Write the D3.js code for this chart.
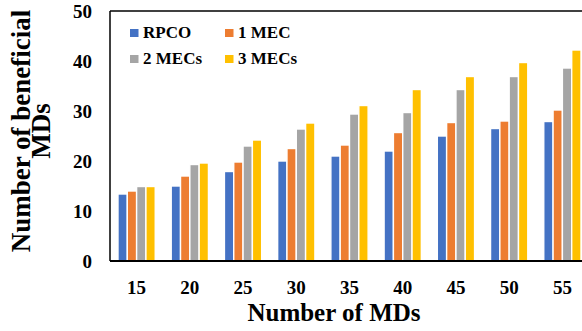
<!DOCTYPE html>
<html>
<head>
<meta charset="utf-8">
<script src="https://cdn.jsdelivr.net/npm/d3@7"></script>
<style>
html,body{margin:0;padding:0;background:#fff;}
svg{display:block;font-family:"Liberation Serif","Times New Roman",serif;font-weight:bold;}
</style>
</head>
<body>
<svg id="chart" width="582" height="331"></svg>
<script>
const categories = ["15","20","25","30","35","40","45","50","55"];
const seriesNames = ["RPCO","1 MEC","2 MECs","3 MECs"];
const rpco   = [13.4, 15.0, 17.9, 20.0, 21.0, 22.0, 25.0, 26.5, 27.9];
const mec1   = [14.0, 17.0, 19.8, 22.5, 23.2, 25.7, 27.7, 28.0, 30.2];
const mec2   = [14.9, 19.3, 23.0, 26.4, 29.4, 29.7, 34.3, 36.9, 38.6];
const mec3   = [14.9, 19.6, 24.2, 27.6, 31.1, 34.3, 36.9, 39.7, 42.2];
const yTicks = [0,10,20,30,40,50];
const colors = ["#4472C4","#ED7D31","#A5A5A5","#FFC000"];
const seriesValues = [rpco, mec1, mec2, mec3];

const svg = d3.select("#chart");
const mLeft = 110, mTop = 11, mBottom = 261;
const FONT = '"Liberation Serif","Times New Roman",serif';

const x = d3.scaleBand().domain(categories).range([mLeft, 589]).paddingInner(0.3).paddingOuter(0.15);
const xs = d3.scaleBand().domain(seriesNames).range([0, x.bandwidth()]);
const y = d3.scaleLinear().domain([0,50]).range([mBottom, mTop]);

const data = categories.map((c,i)=>({cat:c, vals: seriesNames.map((s,j)=>({s, v: seriesValues[j][i], c: colors[j]}))}));

const g = svg.append("g");
g.selectAll("g.grp").data(data).join("g")
  .attr("transform", d=>`translate(${x(d.cat)},0)`)
  .selectAll("rect").data(d=>d.vals).join("rect")
  .attr("x", d=>xs(d.s))
  .attr("width", xs.bandwidth())
  .attr("y", d=>y(d.v))
  .attr("height", d=>y(0)-y(d.v))
  .attr("fill", d=>d.c)
  .attr("stroke","#fff").attr("stroke-width",1.4);

// frame
svg.append("line").attr("x1",mLeft).attr("x2",582).attr("y1",mTop).attr("y2",mTop).attr("stroke","#000").attr("stroke-width",1.5);
svg.append("line").attr("x1",mLeft).attr("x2",mLeft).attr("y1",mTop).attr("y2",mBottom).attr("stroke","#000").attr("stroke-width",1.5);

// axes
const xAxis = d3.axisBottom(x).tickSize(0).tickPadding(0);
const xg = svg.append("g").attr("transform",`translate(0,${mBottom})`).call(xAxis)
  .attr("font-family",FONT).attr("font-size",19).attr("font-weight","bold");
xg.select(".domain").attr("stroke","#000").attr("stroke-width",2).attr("d",`M${mLeft},0H582`);
xg.selectAll("text").attr("fill","#000").attr("dy",null).attr("y",33);

const yAxis = d3.axisLeft(y).tickValues(yTicks).tickSize(0).tickPadding(0);
const yg = svg.append("g").attr("transform",`translate(${mLeft},0)`).call(yAxis)
  .attr("font-family",FONT).attr("font-size",19).attr("font-weight","bold");
yg.select(".domain").remove();
yg.selectAll("text").attr("fill","#000").attr("x",-18).attr("dy","0.34em");

// axis titles
svg.append("text").attr("x",334).attr("y",321).attr("text-anchor","middle").attr("font-size",25).text("Number of MDs");
const yt = svg.append("text").attr("transform","translate(30,131) rotate(-90)").attr("text-anchor","middle").attr("font-size",27);
yt.append("tspan").attr("x",0).attr("y",0).text("Number of beneficial");
yt.append("tspan").attr("x",0).attr("y",20).text("MDs");

// legend
const legPos = [[130,29],[225,29],[130,55],[225,55]];
const leg = svg.append("g").selectAll("g").data(seriesNames).join("g")
  .attr("transform",(d,i)=>`translate(${legPos[i][0]},${legPos[i][1]})`);
leg.append("rect").attr("width",8.5).attr("height",8).attr("fill",(d,i)=>colors[i]);
leg.append("text").attr("x",13).attr("y",8.5).attr("font-size",17).text(d=>d);
</script>
</body>
</html>
